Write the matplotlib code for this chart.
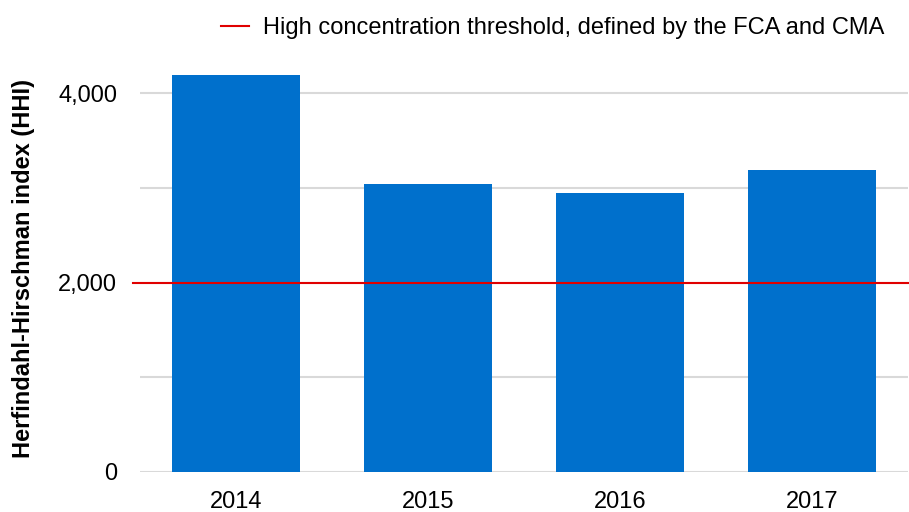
import matplotlib.pyplot as plt

years = ['2014', '2015', '2016', '2017']
hhi = [4195, 3040, 2950, 3185]
threshold = 2000
threshold_label = 'High concentration threshold, defined by the FCA and CMA'

plt.rcParams['font.family'] = ['Liberation Sans', 'DejaVu Sans']

fig = plt.figure(figsize=(9.09, 5.12), dpi=100)
ax = fig.add_axes([140 / 909, 40 / 512, 768 / 909, 432 / 512])

ax.bar(range(len(years)), hhi, width=0.665, color='#0070CC', zorder=2)
ax.axhline(threshold, xmin=-0.009, xmax=1.0, color='#E00000', lw=1.5,
           zorder=3, clip_on=False, label=threshold_label)

ax.set_xlim(-0.5, 3.5)
ax.set_ylim(0, 4560)
ax.set_yticks([0, 1000, 2000, 3000, 4000])
ax.set_yticklabels(['0', '', '2,000', '', '4,000'])
ax.set_xticks(range(len(years)))
ax.set_xticklabels(years)
ax.yaxis.grid(True, color='#D9D9D9', lw=1.5, zorder=0)
ax.set_axisbelow(True)
for s in ax.spines.values():
    s.set_visible(False)
ax.tick_params(length=0, labelsize=17, colors='black')
ax.tick_params(axis='y', pad=16.5)
ax.tick_params(axis='x', pad=14)

ax.set_ylabel('Herfindahl-Hirschman index (HHI)', fontsize=17,
              fontweight='bold')
ax.yaxis.set_label_coords(-0.137, 0.472)

ax.legend(loc='upper right', bbox_to_anchor=(0.982, 1.074), frameon=False,
          fontsize=17, handlelength=1.2, handletextpad=0.6,
          borderaxespad=0)

fig.savefig('out.png', dpi=100)
